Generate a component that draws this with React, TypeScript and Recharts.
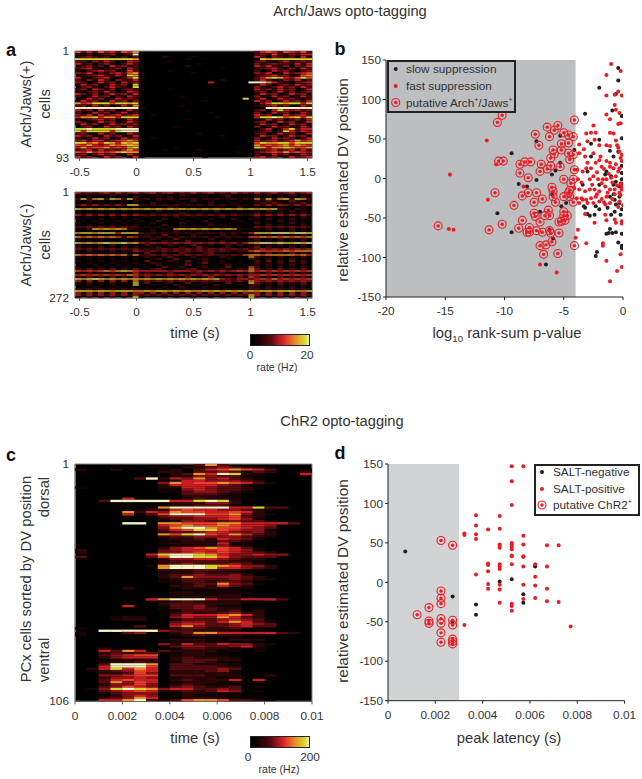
import React from "react";
import { ScatterChart, Scatter, XAxis, YAxis, ReferenceArea } from "recharts";

type Pt = [number, number];

const TIME_TICKS_A = [-0.5, 0, 0.5, 1, 1.5];
const TIME_TICKS_C = [0, 0.002, 0.004, 0.006, 0.008, 0.01];
const DV_TICKS = [-150, -100, -50, 0, 50, 100, 150];
const P_TICKS = [-20, -15, -10, -5, 0];

const LEVEL_COLORS = ["#000000", "#140404", "#2c0708", "#540c0f", "#8a1216", "#c81e24", "#e8402a", "#e8902a", "#d4d62c", "#f4f4c4"];

// each digit is a rate level, groups: before light | light on | after light
const ARCH_POS_ROWS = [
  "63536453657 00000000000000000000 3565365463",
  "10302340139 10000000000000000001 3426324355",
  "23432302303 00002000010000000000 5304323052",
  "88888888887 00000000100000000000 0878888888",
  "33043530254 00000100000000000000 3420352343",
  "52303420353 00000000001000000000 4234332525",
  "03423053423 10000000200000000000 5353240435",
  "34520234053 00000000000000100000 2345304253",
  "20345340263 00000100000000000000 3025342034",
  "43503245367 20000000010000000000 4350253456",
  "02345325387 10000000000000000000 2345340267",
  "52034520358 20000000000000000000 3578754686",
  "30425304325 10000000000000200000 3530243503",
  "43025340534 00000000000050000009 9975320345",
  "25340253408 10000000000000000000 2530342534",
  "03420353208 00000000000000000000 4203534253",
  "34053240343 00000100000000000000 5342534025",
  "20342530254 00000000000000000000 3403524034",
  "53240353425 10000000000000000000 2534025340",
  "30253403253 00000001000000000000 4025340253",
  "02534025343 00000000000000000080 3502534203",
  "25340253404 00000000000100000000 5340253425",
  "75688868878 10000000000000000000 0468878858",
  "34253402537 00000001000000000000 2345340253",
  "99999999999 20000000000000000000 0099999999",
  "53405340253 00000000100000000000 3405854534",
  "30253403523 00000000000010000000 4025340253",
  "43505345345 00100000000000000000 5340253453",
  "57785775888 00000000000001000000 5889867858",
  "20345340253 00000000100000000000 0253403425",
  "43025340253 00000000000000000000 3402534025",
  "25340253434 10000000000000000000 2534025340",
  "03402534053 00000010000000000000 4025340253",
  "88988889999 00000000000000000000 0350258355",
  "85888858999 00000000000000000000 2340385354",
  "34025340253 00000000001000000000 3402534025",
  "53402534025 00000000000000100000 2534035340",
  "30253402534 00100000000000000000 4025343025",
  "45355345676 10000000000000000000 5345345756",
  "88675875878 00000000000000000000 6877886888",
  "65754576787 00000000000000000000 7565675765",
  "57566756578 00000010000000000000 8757787667",
  "34525343575 00001000001000000000 2345345253",
  "65756567877 00000000000000000100 3456575654",
  "34035340253 00000000000000000000 3025340253",
  "53402534025 10000000000100000000 4534025345",
];

const ARCH_NEG_ROWS = [
  "53434535345 34534534353453435343 5345345345",
  "20101030201 10021003200100230010 2030203020",
  "10201020103 00120301001200030120 3020302030",
  "38378387383 23132313231323123132 7383783873",
  "20302010203 10020110030020010200 3242024302",
  "10201020102 00301002001030002001 2324203240",
  "35353435388 32323232323232312121 4353543535",
  "10201020102 01000320010002100301 2010201020",
  "87878787878 78787878787878787878 7878320320",
  "20102010201 10030020100203000100 2030203020",
  "10201020102 00200103002001002010 3020302030",
  "53535353535 43434343434343434323 5353535353",
  "10201020201 02001030020100300001 3020102030",
  "20102010102 00103002001020003002 2030203020",
  "01020102010 20030010200301000200 2010302010",
  "20102010201 00201003010020010010 3020103020",
  "10201020102 01003002010030200100 2030201030",
  "33434343433 12121212121212121101 4343434343",
  "20387878732 10202078787878787211 2030203020",
  "10201020102 00201030010200100100 1020103020",
  "78878885888 32323232323232323235 8889998998",
  "10201020102 03004020031000302100 3020302030",
  "76767676365 23232323232323232326 6767676767",
  "20102010201 00320040210030020001 3020302030",
  "10201020102 02003200401020300102 3020302030",
  "87878988978 54545454545454545357 8998988989",
  "20102030201 03001320040020130300 3020302030",
  "30203020302 00230103004200130002 4030203020",
  "43434343434 23234343434343434343 4545454545",
  "20302030205 43434343434343432336 7666676777",
  "10201020202 04003104200340010201 3040304030",
  "76767676737 33434343434343334367 7677777675",
  "20102010201 03002410030200320007 3020302030",
  "10201020102 00230041002300120003 2030203020",
  "20102010201 04001320400310200100 3040304030",
  "10201020102 00320010302400210100 3020302030",
  "01020102010 20030120400201030020 2030203020",
  "20102010201 02004013002300140006 3020302030",
  "30403040304 00340120340010320307 4030403040",
  "65656767876 55555455545454545657 5656565656",
  "20302030205 03002410034002301004 3040304030",
  "56565656576 45454545454545454545 5656565656",
  "30403040305 04001320400350020406 4030403040",
  "87898787878 78787878787878543554 5657565656",
  "50505050507 34343434343434343437 5454545454",
  "20302030208 04002301400320040008 4030403040",
  "10201020108 00210030012003100203 3020302030",
  "01020102010 01002003010200100003 2030203020",
  "32323232323 12121212121212121213 3232323232",
  "88878878887 78788787877878787878 7887888778",
  "50505050505 50505050505050505054 5050505050",
  "53535353535 34343434343434343438 5353535353",
  "20302030208 10002010020010200018 3020302030",
];

const CHR2_ROWS = [
  "00000 00000 37300 00000", "00000 01102 23432 10000", "20020 00120 35676 53001", "00000 00220 33431 32002",
  "00000 00023 75982 10005", "00000 00012 44331 10000", "00000 39254 74532 10000", "00000 00125 54443 20000",
  "00000 00475 66765 31000", "00000 00255 55431 00000", "10000 00225 54332 10000", "00000 00114 54332 00000",
  "00000 00113 44321 00000", "00000 00003 33210 00000", "00000 00002 22110 00000", "00005 00002 32210 00000",
  "00399 99955 89820 00000", "00000 00022 24420 00000", "00000 00122 33310 00000", "00000 01799 99955 83300",
  "00000 12256 55443 21000", "00007 25476 65565 20000", "00005 13699 96674 21000", "00000 00344 55563 20000",
  "00000 00233 44564 10000", "00000 00124 43343 31000", "00009 90776 66775 55530", "00000 00567 66765 54000",
  "00000 00479 97665 43000", "00000 00356 88654 41000", "00000 00233 45543 42000", "00000 00768 96575 32000",
  "00000 00233 44443 21000", "00000 00122 32543 10000", "00000 00112 22332 00000", "00000 00122 22511 00000",
  "00000 00011 22421 00000", "00000 00245 67653 10000", "20000 00345 55654 10000", "20000 00445 65654 32000",
  "00000 05899 87544 54400", "30000 03699 88643 33000", "00000 00244 55432 20000", "00000 00233 33322 10000",
  "00000 00234 33343 10000", "00000 01799 98764 42000", "00000 00799 98554 32000", "00000 00222 33221 00000",
  "00000 00122 32221 00000", "00000 00233 43342 00000", "00000 00237 44443 20000", "00000 00123 33343 21000",
  "00000 00113 32332 00000", "00000 00012 33743 10000", "00000 00022 32532 00000", "00002 00012 22211 00000",
  "00000 00001 11110 00000", "00000 00022 11111 00000", "00000 00011 11220 00000", "00000 00012 22221 00000",
  "00000 05799 95335 55300", "00000 00123 22221 10000", "00000 00233 32220 00000", "00005 00133 42110 00000",
  "00000 00133 43220 10000", "00000 00013 33230 20000", "00000 00023 22342 20000", "00000 00035 55675 20000",
  "00012 20045 44753 20000", "00012 20013 33454 31000", "00000 00034 43575 30000", "00000 00045 53345 43000",
  "00000 30057 43345 33000", "10000 00023 32230 10000", "00999 99433 22210 00000", "10003 40023 77555 55320",
  "10000 00012 32221 10000", "00000 00000 11110 00000", "00000 00122 21122 20000", "00000 00011 21100 00000",
  "00000 00425 33544 21000", "00000 00034 43345 20000", "00200 00003 32210 10000", "00537 50322 22110 10000",
  "00232 33012 21100 00000", "00345 66012 21100 00000", "00245 55023 22210 00000", "00112 22023 33220 00000",
  "00122 32013 32100 00000", "00399 97033 22210 00000", "00599 96033 33220 00000", "02585 75033 33430 00000",
  "01234 65022 23410 00000", "00223 64022 22210 00000", "00445 66033 32220 02000", "00244 54012 22110 00000",
  "00356 55023 22250 50000", "00374 65012 22110 10000", "00244 64023 21100 00000", "00346 54034 32230 10000",
  "01489 87455 33430 00000", "00345 65123 23540 10000", "00134 44012 21100 00000", "00124 54012 11110 00000",
  "00234 75002 22110 00000", "00557 93236 77633 21000",
];

const SLOW_SUPPRESSION: Pt[] = [
  [-9.4, 32], [-8.8, -7], [-8.1, -10], [-7.3, -2], [-10.6, -44], [-9.4, -68], [-7.3, 47], [-6.5, -109], [-5.9, -76], [-7, -42],
  [-6.2, -65], [-5.3, 54], [-4.1, 36], [-5.3, 20], [-6, 5], [-5.7, 10], [-4.8, -31], [-5.2, -35], [-6, -20], [-3.2, 82],
  [-2, 115], [-0.4, 140], [-0.4, 124], [-0.6, 107], [-0.9, 86], [-0.1, 79], [-0.1, 51], [-1.1, 35], [-0.4, 34], [-0.1, 16],
  [-0.1, 7], [-0.1, -1], [-0.6, -4], [-0.8, -8], [-0.3, -10], [-0.1, -7], [-2, -8], [-1.4, 9], [-1.5, 5], [-3.4, -8],
  [-3, 9], [-3.3, -35], [-3.2, -37], [-3, -45], [-2.8, -47], [-2.4, -46], [-2.3, -35], [-2, -39], [-2.7, 44], [-2.7, 28],
  [-2, 49], [-1.1, -23], [-0.7, -27], [-0.6, -33], [-0.3, -31], [-0.1, -39], [-1, -46], [-0.7, -42], [-0.2, -46], [-1.1, -64],
  [-1.2, -69], [-1.4, -70], [-0.9, -69], [-0.6, -68], [-0.1, -70], [-0.4, -81], [-0.1, -85], [-0.1, -88], [-2.2, -93], [-2.3, -98],
  [-1.3, -37], [-0.8, 28], [-1, 3], [-0.8, -20], [-0.3, -23],
];

const FAST_SUPPRESSION: Pt[] = [
  [-11.5, 48], [-14.6, 5], [-11.4, -27], [-14.7, -64], [-14.3, -65], [-10.7, 18], [-8.4, -10], [-7, -109], [-5.6, -119], [-1.4, 131],
  [-1, 145], [-0.2, 136], [-0.7, 106], [-0.4, 110], [-0.1, 105], [-1.4, 105], [-0.7, 93], [-0.6, 87], [-0.3, 83], [-1.4, 81],
  [-1.1, 75], [-0.4, 69], [-0.2, 70], [-2.5, 67], [-3.1, 57], [-2.7, 58], [-2.3, 58], [-3, 47], [-2.4, 49], [-2, 42],
  [-1.1, 58], [-0.8, 57], [-1.4, 42], [-1.1, 41], [-0.6, 48], [-0.4, 39], [-0.3, 34], [-0.1, 30], [-0.1, 22], [-3.7, 43],
  [-3.3, 37], [-3.7, 32], [-3.2, 28], [-2.5, 32], [-1.9, 28], [-1.4, 22], [-1.1, 20], [-0.6, 18], [-3.9, 11], [-3.1, 13],
  [-3.4, 9], [-2.7, 13], [-2.3, 20], [-2, 23], [-1.8, 15], [-1.1, 15], [-0.8, 13], [-0.3, 13], [-0.4, 9], [-3.8, -1],
  [-2.8, -1], [-2.5, 3], [-2.1, -1], [-1.7, -1], [-1.4, -1], [-1, 1], [-0.6, 3], [-4.1, -12], [-3.7, -14], [-3.2, -16],
  [-2.8, -14], [-2.4, -14], [-2, -16], [-1.5, -10], [-1.1, -14], [-0.7, -14], [-0.1, -14], [-0.3, -18], [-3.9, -25], [-3.5, -25],
  [-3.1, -27], [-2.7, -25], [-2.3, -23], [-1.8, -26], [-1.4, -23], [-0.7, -20], [-3.7, -31], [-3.4, -27], [-3, -31], [-2.5, -31],
  [-2, -29], [-1.5, -33], [-1.1, -31], [-0.3, -29], [0, -34], [-3.2, -45], [-2.4, -56], [-1.5, -46], [-1.4, -53], [-0.7, -52],
  [-0.1, -54], [-0.1, -57], [-3.8, -65], [-4, -75], [-3.1, -82], [-1.7, -82], [-1.7, -85], [-1.4, -104], [-0.2, -96], [-0.5, -117],
  [-0.1, -112], [-1.1, -130], [-1.6, 12], [-1.2, 6], [-0.9, -5], [-0.5, -9], [-2.2, 8], [-2.6, -8], [-3.5, -5], [-1.8, -6],
  [-0.2, -21], [-0.9, -26], [-1.3, -18], [-2.2, -20], [-1.6, -30], [-0.4, -36], [-0.2, -6], [-0.1, -10], [-3, 20], [-0.5, 42],
  [-0.2, 26], [-0.6, -56],
];

const PUTATIVE_ARCH: Pt[] = [
  [-15.6, -60], [-11.3, -65], [-10.2, -58], [-10.6, 71], [-10.2, 80], [-10.8, -18], [-9.2, -34], [-10.5, 22], [-10.1, 22], [-8.7, 18],
  [-8.3, 21], [-7.8, 21], [-8.7, 7], [-8, 1], [-8.5, -22], [-8, -18], [-7.3, -18], [-7.5, -30], [-6.8, -26], [-8.8, -63],
  [-8.5, -53], [-7.9, -62], [-8.1, -68], [-7.9, -68], [-7.5, -44], [-7.4, -48], [-7.3, -66], [-7, -55], [-6.8, -68], [-6.6, -47],
  [-6.3, -40], [-6.2, -47], [-6.2, -66], [-6.1, -69], [-7, -85], [-6.5, -84], [-6, -80], [-6.7, -96], [-5.5, -95], [-5.4, -69],
  [-5.4, -55], [-5.2, -54], [-4.9, -53], [-4.7, -47], [-5, -42], [-5, -47], [-7.4, 56], [-7.1, 42], [-6.4, 65], [-6.2, 53],
  [-5.8, 61], [-5.5, 67], [-5, 58], [-4.6, 55], [-4.2, 53], [-4.1, 74], [-5.9, 36], [-5.8, 31], [-5.2, 44], [-5.2, 36],
  [-4.6, 45], [-4.6, 32], [-4.2, 30], [-4.5, 24], [-6.1, 26], [-6.9, 18], [-7, 9], [-6.4, 12], [-6.1, 16], [-5.3, 15],
  [-4.1, 11], [-5, -1], [-4.2, -1], [-4.4, -6], [-6, -11], [-5.9, -16], [-5.9, -23], [-5.7, -30], [-5, -23], [-4.6, -18],
  [-4.5, -15], [-4.2, -30], [-4.1, -85], [-4.5, -23],
];

const SALT_NEGATIVE: Pt[] = [
  [0.00073, 39], [0.00273, -18], [0.00273, -50], [0.00372, -28], [0.00372, -41], [0.00472, 1], [0.00523, 4], [0.00572, -15], [0.00572, -26], [0.00622, 20],
];

const SALT_POSITIVE: Pt[] = [
  [0.00323, 62], [0.00323, 60], [0.00323, -54], [0.00372, 85], [0.00372, 72], [0.00372, 61], [0.00372, 55], [0.00372, 10],
  [0.00423, 67], [0.00423, 24], [0.00423, 22], [0.00423, 14], [0.00423, -2], [0.00423, -8],
  [0.00472, 84], [0.00472, 68], [0.00472, 48], [0.00472, 46], [0.00472, 44], [0.00472, 23], [0.00472, 20], [0.00472, 17], [0.00472, -3], [0.00472, -9], [0.00472, -26],
  [0.00523, 147], [0.00523, 128], [0.00523, 98], [0.00523, 50], [0.00523, 48], [0.00523, 45], [0.00523, 42], [0.00523, 34], [0.00523, 33], [0.00523, 23], [0.00523, -27], [0.00523, -30], [0.00523, -36],
  [0.00572, 147], [0.00572, 59], [0.00572, 48], [0.00572, 33], [0.00572, 32], [0.00572, 20], [0.00572, -3], [0.00572, -21],
  [0.00622, 23], [0.00622, 7], [0.00622, -4], [0.00622, -20],
  [0.00672, 47], [0.00672, 20], [0.00672, -8], [0.00672, -24],
  [0.00721, 47], [0.00721, -25], [0.00772, -56],
];

const PUTATIVE_CHR2: Pt[] = [
  [0.00224, 53], [0.00273, 47], [0.00224, -11], [0.00224, -20], [0.00224, -27], [0.00173, -32], [0.00123, -41], [0.00173, -49], [0.00173, -52],
  [0.00224, -46], [0.00224, -52], [0.00224, -64], [0.00224, -76], [0.00273, -48], [0.00273, -54], [0.00273, -72], [0.00273, -75], [0.00273, -78],
];

const FONT = "'Liberation Sans', Arial, sans-serif";
const RED = "#ec1c24";
const BLACK = "#231f20";
const TEXT = "#333333";
const BAR_GRADIENT = "linear-gradient(to right, #000 0%, #1c0406 15%, #5a0c10 35%, #d8202a 55%, #e8602a 68%, #e2a02c 80%, #d6da2c 93%, #f0f0b0 100%)";

const toPoints = (pts: Pt[]) => pts.map(([x, y]) => ({ x, y }));

const Dot = (fill: string) => (p: any) => <circle cx={p.cx} cy={p.cy} r={2} fill={fill} />;
const Ring = (p: any) => (
  <g>
    <circle cx={p.cx} cy={p.cy} r={4} fill="none" stroke={RED} strokeWidth={1.1} />
    <circle cx={p.cx} cy={p.cy} r={1.7} fill={RED} />
  </g>
);

interface Rect { x0: number; x1: number; y0: number; y1: number }

function Label({ x, y, size = 14.8, rotate = 0, children, weight, color = TEXT }: any) {
  return (
    <div
      style={{
        position: "absolute", left: x, top: y, whiteSpace: "nowrap", fontSize: size, lineHeight: 1, color,
        fontWeight: weight, transform: `translate(-50%,-50%) rotate(${rotate}deg)`,
      }}
    >
      {children}
    </div>
  );
}

function Heatmap({ rect, rows, xDomain, xTicks, nCells, yLabels, thickness = 1 }: { rect: Rect; rows: string[]; xDomain: [number, number]; xTicks: number[]; nCells: number; yLabels: [string, string]; thickness?: number }) {
  const grid = rows.map((r) => r.replace(/ /g, ""));
  const cols = grid[0].length;
  const plotW = rect.x1 - rect.x0;
  const plotH = rect.y1 - rect.y0;
  const cellW = plotW / cols + 0.3;
  const cellH = (plotH / grid.length) * thickness + 0.1;
  const bin = (xDomain[1] - xDomain[0]) / cols;
  const data: { x: number; y: number; level: number }[] = [];
  grid.forEach((row, i) => {
    row.split("").forEach((c, j) => {
      if (c !== "0") data.push({ x: xDomain[0] + (j + 0.5) * bin, y: ((i + 0.5) * nCells) / grid.length, level: Number(c) });
    });
  });
  const cell = (p: any) => (
    <rect x={p.cx - cellW / 2} y={p.cy - cellH / 2} width={cellW} height={cellH} fill={LEVEL_COLORS[p.payload.level]} />
  );
  return (
    <div className="heat" style={{ position: "absolute", left: rect.x0 - 45, top: rect.y0 - 10 }}>
      <ScatterChart width={plotW + 60} height={plotH + 40} margin={{ top: 10, right: 15, bottom: 0, left: 0 }}>
        <XAxis
          type="number" dataKey="x" domain={xDomain} ticks={xTicks} interval={0} height={30} tickSize={3} tickMargin={7}
          tick={{ fontSize: 11.8, fill: TEXT }} stroke="#555" allowDataOverflow
        />
        <YAxis
          type="number" dataKey="y" domain={[0, nCells]} ticks={[0, nCells]} reversed interval={0} width={45} tickSize={0} tickMargin={6}
          tickFormatter={(v: number) => (v === 0 ? yLabels[0] : yLabels[1])} tick={{ fontSize: 11.8, fill: TEXT }} stroke="#888" allowDataOverflow
        />
        <ReferenceArea x1={xDomain[0]} x2={xDomain[1]} y1={0} y2={nCells} fill="#000" fillOpacity={1} stroke="none" />
        <Scatter data={data} shape={cell} isAnimationActive={false} />
        <ReferenceArea x1={xDomain[0]} x2={xDomain[1]} y1={0} y2={nCells} fill="none" stroke="#888" />
      </ScatterChart>
    </div>
  );
}

function DotPanel({ rect, xDomain, xTicks, shadeTo, shade, series, putative }: { rect: Rect; xDomain: [number, number]; xTicks: number[]; shadeTo: number[]; shade: string; series: { pts: Pt[]; color: string }[]; putative: Pt[] }) {
  const plotW = rect.x1 - rect.x0;
  const plotH = rect.y1 - rect.y0;
  return (
    <div style={{ position: "absolute", left: rect.x0 - 45, top: rect.y0 - 10 }}>
      <ScatterChart width={plotW + 60} height={plotH + 40} margin={{ top: 10, right: 15, bottom: 0, left: 0 }}>
        <XAxis
          type="number" dataKey="x" domain={xDomain} ticks={xTicks} interval={0} height={30} tickSize={3} tickMargin={7}
          tick={{ fontSize: 11.8, fill: TEXT }} stroke="#222" allowDataOverflow
        />
        <YAxis
          type="number" dataKey="y" domain={[-150, 150]} ticks={DV_TICKS} interval={0} width={45} tickSize={3} tickMargin={2}
          tick={{ fontSize: 11.8, fill: TEXT }} stroke="#222" allowDataOverflow
        />
        <ReferenceArea x1={shadeTo[0]} x2={shadeTo[1]} y1={-150} y2={150} fill={shade} fillOpacity={1} stroke="none" />
        {series.map((s) => (
          <Scatter key={s.color} data={toPoints(s.pts)} shape={Dot(s.color)} isAnimationActive={false} />
        ))}
        <Scatter data={toPoints(putative)} shape={Ring} isAnimationActive={false} />
      </ScatterChart>
    </div>
  );
}

function LegendBox({ x, y, w, h, bg, rowsY, markX, textX, items }: any) {
  return (
    <>
      <div style={{ position: "absolute", left: x, top: y, width: w, height: h, boxSizing: "border-box", border: "2px solid #222", background: bg }} />
      <svg style={{ position: "absolute", left: 0, top: 0 }} width={642} height={779} pointerEvents="none">
        {items.map((it: any, i: number) =>
          it.ring ? (
            <g key={i}>
              <circle cx={markX} cy={rowsY[i]} r={4} fill="none" stroke={RED} strokeWidth={1.1} />
              <circle cx={markX} cy={rowsY[i]} r={1.7} fill={RED} />
            </g>
          ) : (
            <circle key={i} cx={markX} cy={rowsY[i]} r={2} fill={it.color} />
          )
        )}
      </svg>
      {items.map((it: any, i: number) => (
        <div key={i} style={{ position: "absolute", left: textX, top: rowsY[i] - 7, fontSize: 11.8, lineHeight: "14px", color: TEXT, whiteSpace: "nowrap" }}>
          {it.label}
        </div>
      ))}
    </>
  );
}

function ColorBar({ y, max, maxX, zeroX, labelX }: { y: number; max: string; maxX: number; zeroX: number; labelX: number }) {
  return (
    <>
      <div
        style={{
          position: "absolute", left: 250, top: y, width: 60, height: 12, boxSizing: "border-box", border: "1px solid #222",
          background: BAR_GRADIENT,
        }}
      />
      <Label x={zeroX} y={y + 22} size={11.8}>0</Label>
      <Label x={maxX} y={y + 22} size={11.8}>{max}</Label>
      <Label x={labelX} y={y + 33} size={10.5}>rate (Hz)</Label>
    </>
  );
}

const sup = (s: string) => <sup style={{ fontSize: "0.6em", lineHeight: 0 }}>{s}</sup>;

export default function App() {
  return (
    <div style={{ position: "absolute", left: 0, top: 0, width: 642, height: 779, overflow: "hidden", background: "#fff", fontFamily: FONT }}>
      <style>{`.heat .recharts-scatter{filter:blur(0.5px)} .heat text, svg text{font-family:${FONT}}`}</style>

      <Label x={350} y={11} size={14.7}>Arch/Jaws opto-tagging</Label>
      <Label x={342} y={421} size={14.7}>ChR2 opto-tagging</Label>

      <Label x={11} y={50} size={18} weight="bold" color="#111">a</Label>
      <Label x={340} y={49} size={18} weight="bold" color="#111">b</Label>
      <Label x={11} y={455} size={18} weight="bold" color="#111">c</Label>
      <Label x={340} y={453} size={18} weight="bold" color="#111">d</Label>

      <Heatmap rect={{ x0: 74.5, x1: 311.7, y0: 50.7, y1: 157.7 }} rows={ARCH_POS_ROWS} xDomain={[-0.54, 1.54]} xTicks={TIME_TICKS_A} nCells={93} yLabels={["1", "93"]} thickness={0.8} />
      <Heatmap rect={{ x0: 74.5, x1: 311.7, y0: 192.3, y1: 298.3 }} rows={ARCH_NEG_ROWS} xDomain={[-0.54, 1.54]} xTicks={TIME_TICKS_A} nCells={272} yLabels={["1", "272"]} thickness={0.65} />
      <Heatmap rect={{ x0: 75.3, x1: 312.3, y0: 463.7, y1: 701 }} rows={CHR2_ROWS} xDomain={[0, 0.01]} xTicks={TIME_TICKS_C} nCells={106} yLabels={["1", "106"]} />

      <DotPanel
        rect={{ x0: 386.3, x1: 623.3, y0: 60.3, y1: 297.3 }} xDomain={[-20, 0]} xTicks={P_TICKS} shadeTo={[-20, -4]} shade="#bcbec0"
        series={[{ pts: SLOW_SUPPRESSION, color: BLACK }, { pts: FAST_SUPPRESSION, color: RED }]} putative={PUTATIVE_ARCH}
      />
      <DotPanel
        rect={{ x0: 387.7, x1: 624.3, y0: 464, y1: 700.7 }} xDomain={[0, 0.01]} xTicks={TIME_TICKS_C} shadeTo={[0, 0.003]} shade="#d1d3d4"
        series={[{ pts: SALT_NEGATIVE, color: BLACK }, { pts: SALT_POSITIVE, color: RED }]} putative={PUTATIVE_CHR2}
      />

      <LegendBox
        x={386.5} y={60} w={129} h={52.5} bg="#bcbec0" rowsY={[69, 86, 102.5]} markX={395.7} textX={406}
        items={[
          { label: "slow suppression", color: BLACK },
          { label: "fast suppression", color: RED },
          { label: <>putative Arch{sup("+")}/Jaws{sup("+")}</>, ring: true },
        ]}
      />
      <LegendBox
        x={534} y={463.5} w={106} h={52} bg="#fff" rowsY={[472, 489, 505]} markX={542} textX={553}
        items={[
          { label: "SALT-negative", color: BLACK },
          { label: "SALT-positive", color: RED },
          { label: <>putative ChR2{sup("+")}</>, ring: true },
        ]}
      />

      <Label x={26} y={104} rotate={-90}>Arch/Jaws(+)</Label>
      <Label x={45} y={104} rotate={-90}>cells</Label>
      <Label x={26} y={245} rotate={-90}>Arch/Jaws(-)</Label>
      <Label x={45} y={245} rotate={-90}>cells</Label>
      <Label x={195} y={333}>time (s)</Label>
      <ColorBar y={334} max="20" zeroX={250} maxX={307} labelX={277} />

      <Label x={343} y={180} size={15.4} rotate={-90}>relative estimated DV position</Label>
      <Label x={507} y={333}>log<sub style={{ fontSize: "0.65em", lineHeight: 0 }}>10</sub> rank-sum p-value</Label>

      <Label x={26} y={579} rotate={-90}>PCx cells sorted by DV position</Label>
      <Label x={44} y={497} rotate={-90}>dorsal</Label>
      <Label x={44} y={660} rotate={-90}>ventral</Label>
      <Label x={195} y={738}>time (s)</Label>
      <ColorBar y={735.7} max="200" zeroX={248} maxX={310} labelX={279} />

      <Label x={343} y={581} size={15.4} rotate={-90}>relative estimated DV position</Label>
      <Label x={509} y={738}>peak latency (s)</Label>
    </div>
  );
}
